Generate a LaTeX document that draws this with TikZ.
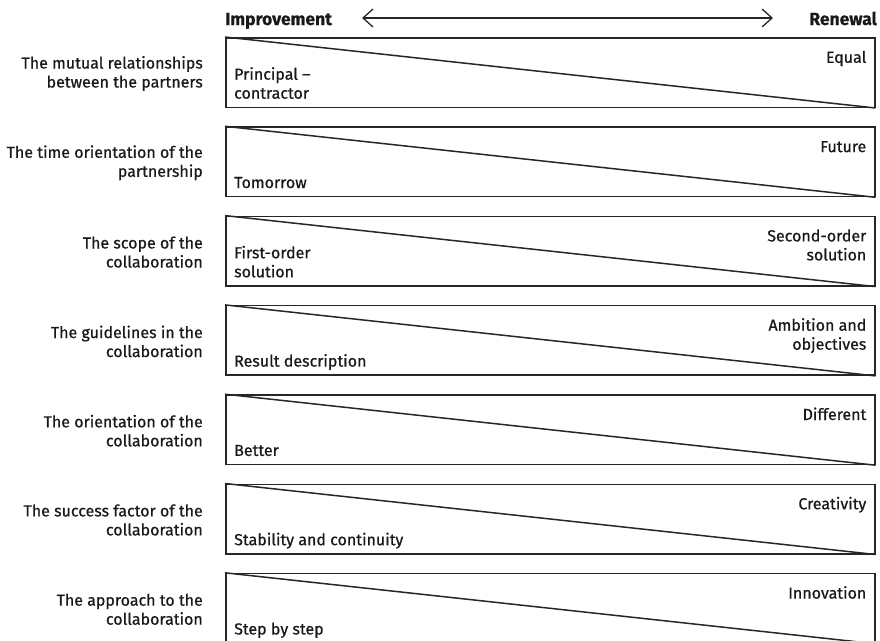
\documentclass[tikz,border=0pt]{standalone}
\usepackage{fontspec}
\setmainfont{Fira Sans}[FakeBold=0.6]
\usetikzlibrary{arrows.meta}
\begin{document}
\begin{tikzpicture}[x=1pt,y=-1pt,
  txt/.style={font=\fontsize{16}{19}\selectfont, inner sep=0pt, text=black!90},
  head/.style={font=\fontsize{17.5}{19}\selectfont\bfseries, inner sep=0pt, text=black!90},
  bar/.style={draw=black!85, line width=1.5pt, minimum width=649pt, minimum height=69.5pt, inner sep=0pt, anchor=north west},
  slope/.style={draw=black!85, line width=1.5pt},
  scale arrow/.style={draw=black!85, line width=1.3pt, {Straight Barb[length=10pt,width=18pt]}-{Straight Barb[length=10pt,width=18pt]}}]
\useasboundingbox (0,0) rectangle (880,640);
\clip (0,0) rectangle (880,640);

% scale header
\node[head, anchor=base west] (imp) at (225,25) {Improvement};
\node[head, anchor=base east] (ren) at (877,25) {Renewal};
\coordinate (al) at (362,18);
\coordinate (ar) at (773,18);
\draw[scale arrow] (al) -- (ar);

% one bar per aspect: label, low end (left), high end (right)
\foreach \i/\lab/\lo/\hi in {
  0/{The mutual relationships\\between the partners}/{Principal --\\contractor}/{Equal},
  1/{The time orientation of the\\partnership}/{Tomorrow}/{Future},
  2/{The scope of the\\collaboration}/{First-order\\solution}/{Second-order\\solution},
  3/{The guidelines in the\\collaboration}/{Result description}/{Ambition and\\objectives},
  4/{The orientation of the\\collaboration}/{Better}/{Different},
  5/{The success factor of the\\collaboration}/{Stability and continuity}/{Creativity},
  6/{The approach to the\\collaboration}/{Step by step}/{Innovation}}{
  \pgfmathsetmacro\ytop{37+89.3*\i}
  \node[bar] (box\i) at (225,\ytop) {};
  \draw[slope] (box\i.north west) -- (box\i.south east);
  \node[txt, anchor=east, align=right] (lab\i) at ([xshift=-22pt,yshift=-1pt]box\i.west) {\lab};
  \node[txt, anchor=south west, align=left] (lo\i) at ([xshift=9pt,yshift=3.4pt]box\i.south west) {\lo\strut};
  \node[txt, anchor=north east, align=right] (hi\i) at ([xshift=-9pt,yshift=-12.3pt]box\i.north east) {\strut\hi};
}
\end{tikzpicture}
\end{document}
